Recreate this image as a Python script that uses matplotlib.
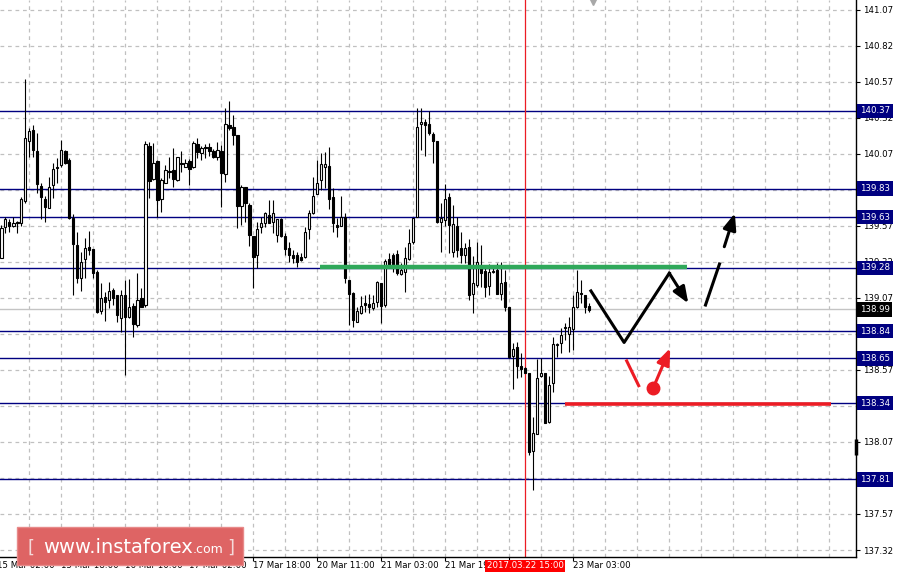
import matplotlib
matplotlib.use("Agg")
import matplotlib.pyplot as plt
import matplotlib.transforms as mtransforms
from matplotlib.patches import FancyBboxPatch
import numpy as np

plt.rcParams['font.family'] = ['DejaVu Sans']

# USDJPY-style H1 candles ====================================================
opens = [139.345, 139.565, 139.600, 139.570, 139.598, 139.593, 139.746, 140.162, 140.236, 140.090,
         139.847, 139.755, 139.692, 139.854, 139.982, 139.993, 140.090, 140.028, 139.623, 139.438,
         139.206, 139.338, 139.426, 139.408, 139.253, 138.982, 139.074, 139.056, 139.125, 139.090,
         138.928, 139.090, 138.940, 139.014, 138.882, 139.067, 139.021, 140.125, 139.894, 140.023,
         139.755, 139.871, 139.954, 139.959, 139.889, 140.005, 139.982, 140.023, 139.977, 140.139,
         140.074, 140.116, 140.116, 140.090, 140.046, 140.093, 139.931, 140.271, 140.255, 140.202,
         139.709, 139.838, 139.716, 139.500, 139.368, 139.561, 139.588, 139.646, 139.600, 139.507,
         139.616, 139.500, 139.415, 139.368, 139.368, 139.352, 139.352, 139.546, 139.658, 139.792,
         139.889, 139.982, 139.986, 139.769, 139.576, 139.570, 139.634, 139.195, 139.102, 138.905,
         138.963, 139.033, 139.028, 138.998, 139.044, 139.171, 139.021, 139.338, 139.368, 139.375,
         139.236, 139.252, 139.338, 139.461, 139.634, 140.278, 140.289, 140.278, 140.206, 140.162,
         139.595, 139.611, 139.773, 139.391, 139.570, 139.414, 139.368, 139.426, 139.097, 139.160,
         139.292, 139.259, 139.153, 139.252, 139.264, 139.097, 139.183, 139.005, 138.667, 138.727,
         138.597, 138.581, 138.551, 138.009, 138.123, 138.528, 138.551, 138.211, 138.477, 138.743,
         138.759, 138.859, 138.820, 138.852, 139.009, 139.102, 139.090, 139.014]
highs = [139.577, 139.635, 139.616, 139.635, 139.607, 139.770, 140.588, 140.248, 140.271, 140.213,
         139.866, 139.778, 139.908, 140.005, 140.040, 140.167, 140.097, 140.040, 139.650, 139.526,
         139.392, 139.484, 139.535, 139.408, 139.264, 139.172, 139.114, 139.183, 139.137, 139.090,
         139.125, 139.195, 139.200, 139.033, 139.241, 139.137, 140.162, 140.155, 140.148, 140.028,
         139.901, 139.993, 140.046, 140.109, 140.046, 140.093, 140.033, 140.033, 140.162, 140.178,
         140.125, 140.139, 140.144, 140.102, 140.155, 140.132, 140.387, 140.438, 140.341, 140.202,
         139.854, 139.843, 139.732, 139.500, 139.600, 139.635, 139.669, 139.750, 139.750, 139.616,
         139.623, 139.519, 139.461, 139.403, 139.392, 139.380, 139.565, 139.681, 139.912, 140.028,
         140.074, 140.086, 140.116, 139.831, 139.623, 139.778, 139.658, 139.195, 139.113, 139.009,
         139.083, 139.090, 139.097, 139.090, 139.190, 139.171, 139.338, 139.384, 139.384, 139.403,
         139.310, 139.426, 139.546, 139.623, 140.387, 140.387, 140.310, 140.370, 140.225, 140.162,
         139.727, 139.861, 139.796, 139.715, 139.634, 139.530, 139.454, 139.477, 139.361, 139.461,
         139.438, 139.299, 139.306, 139.299, 139.315, 139.322, 139.264, 139.005, 138.759, 138.766,
         138.685, 138.588, 138.551, 138.241, 138.644, 138.651, 138.551, 138.528, 138.801, 138.759,
         138.859, 138.898, 138.935, 139.090, 139.264, 139.195, 139.090, 139.033]
lows = [139.345, 139.523, 139.530, 139.565, 139.523, 139.570, 139.732, 140.051, 140.046, 139.797,
        139.616, 139.600, 139.692, 139.762, 139.866, 139.982, 140.000, 139.616, 139.090, 139.172,
        139.121, 139.206, 139.368, 139.206, 138.963, 138.959, 138.912, 138.998, 139.021, 138.905,
        138.831, 138.535, 138.928, 138.797, 138.871, 139.005, 139.005, 139.762, 139.889, 139.635,
        139.669, 139.866, 139.901, 139.843, 139.885, 139.947, 139.977, 139.854, 139.975, 140.040,
        140.028, 140.040, 140.056, 140.040, 140.028, 139.704, 139.878, 140.236, 140.132, 139.554,
        139.577, 139.600, 139.431, 139.137, 139.276, 139.523, 139.565, 139.588, 139.519, 139.461,
        139.496, 139.368, 139.322, 139.315, 139.283, 139.329, 139.345, 139.477, 139.653, 139.792,
        139.820, 139.831, 139.685, 139.530, 139.495, 139.570, 139.176, 138.882, 138.866, 138.905,
        138.958, 138.975, 138.968, 138.986, 139.009, 138.894, 139.009, 139.292, 139.252, 139.229,
        139.229, 139.113, 139.334, 139.445, 139.630, 140.097, 140.056, 140.201, 140.005, 139.593,
        139.391, 139.570, 139.384, 139.357, 139.357, 139.315, 139.310, 139.056, 138.963, 139.148,
        139.148, 139.074, 139.090, 139.241, 139.097, 139.056, 138.982, 138.651, 138.435, 138.512,
        138.523, 138.546, 137.979, 137.736, 138.123, 138.523, 138.204, 138.204, 138.419, 138.662,
        138.685, 138.778, 138.697, 138.708, 138.998, 139.033, 138.963, 138.975]
closes = [139.554, 139.616, 139.570, 139.593, 139.588, 139.755, 140.178, 140.227, 140.097, 139.859,
          139.769, 139.704, 139.843, 139.963, 139.975, 140.097, 140.005, 139.623, 139.442, 139.206,
          139.322, 139.415, 139.403, 139.241, 138.975, 139.067, 139.044, 139.121, 139.067, 138.952,
          139.090, 138.935, 139.010, 138.889, 139.056, 139.010, 140.139, 139.885, 140.005, 139.750,
          139.889, 139.959, 139.947, 139.894, 140.046, 139.998, 140.005, 139.963, 140.144, 140.086,
          140.109, 140.109, 140.093, 140.051, 140.097, 139.935, 140.276, 140.248, 140.202, 139.709,
          139.843, 139.727, 139.507, 139.352, 139.547, 139.593, 139.658, 139.593, 139.662, 139.616,
          139.500, 139.408, 139.368, 139.345, 139.322, 139.334, 139.530, 139.662, 139.778, 139.870,
          140.000, 140.000, 139.755, 139.588, 139.565, 139.634, 139.206, 139.097, 138.917, 138.982,
          139.014, 139.021, 139.005, 139.037, 139.178, 139.014, 139.327, 139.292, 139.287, 139.241,
          139.264, 139.345, 139.454, 139.623, 140.255, 140.294, 140.271, 140.213, 140.162, 139.600,
          139.623, 139.757, 139.576, 139.583, 139.403, 139.368, 139.414, 139.090, 139.176, 139.322,
          139.245, 139.148, 139.252, 139.259, 139.097, 139.176, 139.009, 138.662, 138.713, 138.597,
          138.574, 138.546, 138.003, 138.134, 138.512, 138.546, 138.204, 138.465, 138.750, 138.750,
          138.813, 138.866, 138.866, 139.005, 139.113, 139.097, 139.005, 138.986]

# Levels drawn by the analyst
levels = [140.37, 139.83, 139.63, 139.28, 138.84, 138.65, 138.34, 137.81]
current_price = 138.99
price_ticks = [141.07, 140.82, 140.57, 140.32, 140.07, 139.82, 139.57, 139.32,
               139.07, 138.82, 138.57, 138.32, 138.07, 137.82, 137.57, 137.32]
# tick labels completely hidden under a level label in the terminal
hidden_ticks = [139.82, 138.32, 137.82]

# Time axis labels (bar index, text)
time_label_bars = [-1, 15, 31, 47, 63, 79, 95, 111, 143]
time_labels = ["15 Mar 02:00", "15 Mar 18:00", "16 Mar 10:00", "17 Mar 02:00", "17 Mar 18:00",
               "20 Mar 11:00", "21 Mar 03:00", "21 Mar 19:00", "23 Mar 03:00"]
time_tick_bars = [15, 31, 47, 63, 79, 95, 111, 127, 143]
cursor_bar = 131
cursor_label = "2017.03.22 15:00"

# Forecast drawings (bar index, price)
resist_bars = [79.7, 171.4]
resist_price = 139.285
support_bars = [141.0, 207.4]
support_price = 138.335
path_bars = [147.4, 155.7, 167.0]
path_prices = [139.119, 138.761, 139.242]
drop_arrow = [(167.0, 139.242), (171.75, 139.033)]
rise_line = [(176.05, 139.021), (179.55, 139.306)]
rise_arrow = [(180.75, 139.426), (183.4, 139.658)]
alt_line = [(156.35, 138.633), (159.35, 138.461)]
alt_dot = (163.0, 138.447)
alt_arrow_tip = (167.2, 138.721)

NAVY = '#000080'
GRID = '#c0c0c0'
RED = '#ec1c24'

# Figure layout ==============================================================
fig = plt.figure(figsize=(8.98, 5.79), dpi=100)
ax = fig.add_axes([0, 22 / 579, 856 / 898, 557 / 579])
ax.set_xlim(-0.325, 213.675)
ax.set_ylim(137.2714, 141.139)

for s in ['left', 'top']:
    ax.spines[s].set_visible(False)
for s in ['right', 'bottom']:
    ax.spines[s].set_linewidth(1.0)
    ax.spines[s].set_color('black')

# dashed grid
for p in price_ticks:
    ax.axhline(p, color=GRID, lw=0.9, ls=(0, (3, 3)), zorder=0.5)
for b in range(7, 214, 8):
    ax.axvline(b, color=GRID, lw=0.9, ls=(0, (3, 3)), zorder=0.5)

# horizontal levels
for lv in levels:
    ax.axhline(lv, color=NAVY, lw=1.0, zorder=1)
ax.axhline(current_price, color='#c4c4c4', lw=1.0, zorder=1)

# cursor line
ax.axvline(cursor_bar, color=RED, lw=0.9, zorder=1.5)

# candles
idx = np.arange(len(opens))
o = np.array(opens)
c = np.array(closes)
up = c >= o
body_lo = np.minimum(o, c)
body_h = np.maximum(np.abs(c - o), 0.005)
ax.vlines(idx, lows, highs, color='black', lw=0.8, zorder=3)
ax.bar(idx[up], body_h[up], bottom=body_lo[up], width=0.6, color='white',
       edgecolor='black', lw=0.8, zorder=4)
ax.bar(idx[~up], body_h[~up], bottom=body_lo[~up], width=0.6, color='black',
       edgecolor='black', lw=0.8, zorder=4)

# analyst drawings
ax.plot(resist_bars, [resist_price] * 2, color='#2fa85a', lw=3.2, zorder=5, solid_capstyle='butt')
ax.plot(support_bars, [support_price] * 2, color=RED, lw=2.6, zorder=5, solid_capstyle='butt')
ax.plot(path_bars, path_prices, color='black', lw=2.2, zorder=6)
ax.plot(*zip(*rise_line), color='black', lw=2.2, zorder=6)
head = dict(arrowstyle='-|>,head_length=0.7,head_width=0.28', mutation_scale=14,
            shrinkA=0, shrinkB=0, lw=2.2)
ax.annotate('', xy=drop_arrow[1], xytext=drop_arrow[0],
            arrowprops=dict(color='black', **head), zorder=6)
ax.annotate('', xy=rise_arrow[1], xytext=rise_arrow[0],
            arrowprops=dict(color='black', **head), zorder=6)
ax.plot(*zip(*alt_line), color=RED, lw=2.2, zorder=6)
ax.plot(*alt_dot, 'o', color=RED, ms=9, zorder=6)
ax.annotate('', xy=alt_arrow_tip, xytext=alt_dot,
            arrowprops=dict(color=RED, **head), zorder=6)

# price axis on the right
ax.yaxis.tick_right()
ax.set_yticks(price_ticks)
ax.set_yticklabels(["" if p in hidden_ticks else f"{p:.2f}" for p in price_ticks])
ax.tick_params(axis='y', direction='out', length=3, width=0.8, pad=2, labelsize=6.2)

yt = mtransforms.blended_transform_factory(ax.transAxes, ax.transData)
for lv in levels:
    ax.text(1 + 4 / 856, lv, f"{lv:.2f}", transform=yt, ha='left', va='center',
            fontsize=6.2, color='white', zorder=10, clip_on=False,
            bbox=dict(boxstyle='square,pad=0.3', fc=NAVY, ec='none'))
ax.text(1 + 4 / 856, current_price, f"{current_price:.2f}", transform=yt, ha='left',
        va='center', fontsize=6.2, color='white', zorder=10, clip_on=False,
        bbox=dict(boxstyle='square,pad=0.3', fc='black', ec='none'))
ax.plot([1, 1], [137.98, 138.09], transform=yt, color='black', lw=2.5,
        solid_capstyle='butt', clip_on=False, zorder=10)

# time axis
ax.set_xticks(time_tick_bars)
ax.set_xticklabels([])
ax.tick_params(axis='x', direction='out', length=3, width=0.8)
xt = mtransforms.blended_transform_factory(ax.transData, ax.transAxes)
for b, lab in zip(time_label_bars, time_labels):
    ax.text(b, -0.008, lab, transform=xt, ha='left', va='top', fontsize=6.2, clip_on=False)
ax.text(cursor_bar, -0.008, cursor_label, transform=xt, ha='center', va='top', fontsize=6.2,
        color='white', clip_on=False, zorder=10,
        bbox=dict(boxstyle='square,pad=0.2', fc='#ff0000', ec='none'))
ax.plot(147.9, 141.125, marker='v', ms=4, color='#a8a8a8', clip_on=False)

# watermark logo
fig.add_artist(FancyBboxPatch((17 / 898, 14 / 579), 226 / 898, 38 / 579,
                              boxstyle='square,pad=0', transform=fig.transFigure,
                              fc='#de6464', ec='#e88a8a', lw=1, zorder=20))
by = (579 - 553) / 579
fig.text(31 / 898, by, "[", color='#f4dada', fontsize=13, ha='center', va='baseline', zorder=21)
fig.text(193 / 898, by, "www.instaforex", color='white', fontsize=14, ha='right',
         va='baseline', zorder=21)
fig.text(193 / 898, by, ".com", color='white', fontsize=9, ha='left', va='baseline', zorder=21)
fig.text(231 / 898, by, "]", color='#f4dada', fontsize=13, ha='center', va='baseline', zorder=21)

fig.savefig("out.png", dpi=100)
